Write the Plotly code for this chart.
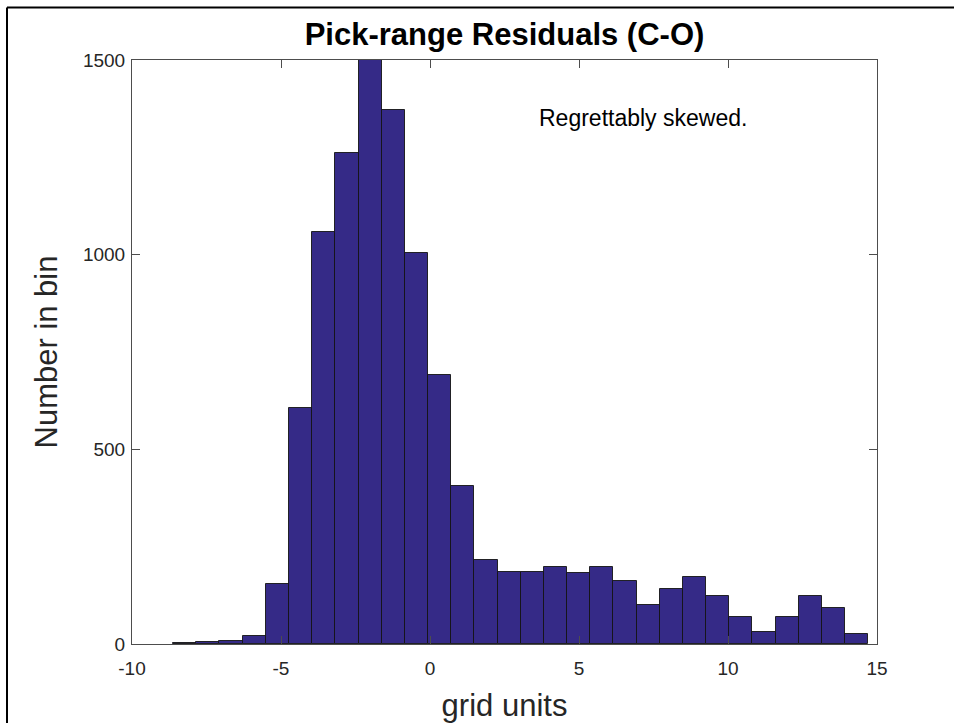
import plotly.graph_objects as go

# Histogram of pick-range residuals (computed minus observed), 30 equal bins
bin_start = -8.62
bin_stop = 14.71
counts = [3, 4, 9, 21, 154, 606, 1059, 1260, 1500, 1371,
          1005, 692, 406, 216, 184, 184, 197, 182, 197, 163,
          100, 141, 171, 123, 70, 30, 70, 123, 92, 26]

x_ticks = [-10, -5, 0, 5, 10, 15]
y_ticks = [0, 500, 1000, 1500]

n_bins = len(counts)
width = (bin_stop - bin_start) / n_bins
centers = [bin_start + (i + 0.5) * width for i in range(n_bins)]

font_family = "Liberation Sans, Arial, Helvetica, sans-serif"
axis_color = "#262626"

fig = go.Figure()
fig.add_trace(go.Bar(
    x=centers,
    y=counts,
    width=[width] * n_bins,
    marker=dict(color="#352a87", line=dict(color="rgba(20,20,20,0.9)", width=1)),
    hoverinfo="x+y",
    showlegend=False,
))

axis_common = dict(
    showline=True, linecolor="#4d4d4d", linewidth=1, mirror="ticks",
    ticks="inside", ticklen=8, tickwidth=1, tickcolor="#4d4d4d",
    showgrid=False, zeroline=False, automargin=False,
    tickfont=dict(family=font_family, size=19, color=axis_color),
)

fig.update_layout(
    width=954, height=723,
    margin=dict(l=132, r=77, t=60, b=79),
    paper_bgcolor="white", plot_bgcolor="white",
    bargap=0,
    title=dict(
        text="<b>Pick-range Residuals (C-O)</b>",
        x=(132 + 745 / 2) / 954, xanchor="center",
        y=1 - 34 / 723, yanchor="middle",
        font=dict(family=font_family, size=31, color="black"),
    ),
    xaxis=dict(
        range=[-10, 15], tickvals=x_ticks, ticktext=[str(v) for v in x_ticks],
        ticklabelstandoff=7,
        title=dict(text="grid units", standoff=20,
                   font=dict(family=font_family, size=31, color=axis_color)),
        **axis_common,
    ),
    yaxis=dict(
        range=[0, 1500], tickvals=y_ticks, ticktext=[str(v) for v in y_ticks],
        ticklabelstandoff=2,
        title=dict(text="Number in bin", standoff=16,
                   font=dict(family=font_family, size=31, color=axis_color)),
        **axis_common,
    ),
    font=dict(family=font_family),
)

fig.add_annotation(
    x=3.6, y=1350, xref="x", yref="y",
    text="Regrettably skewed.", showarrow=False,
    xanchor="left", yanchor="middle",
    font=dict(family=font_family, size=23, color="black"),
)

# Outer figure frame (left and top edges visible)
left_px, top_px = 7, 7.5
px_x = lambda px: (px - 132) / 745
px_y = lambda py: (644 - py) / 584
fig.add_shape(type="line", xref="paper", yref="paper",
              x0=px_x(left_px), x1=px_x(left_px), y0=px_y(top_px), y1=px_y(760),
              line=dict(color="black", width=2))
fig.add_shape(type="line", xref="paper", yref="paper",
              x0=px_x(left_px), x1=px_x(1000), y0=px_y(top_px), y1=px_y(top_px),
              line=dict(color="black", width=2))

fig.write_html("out.html")
